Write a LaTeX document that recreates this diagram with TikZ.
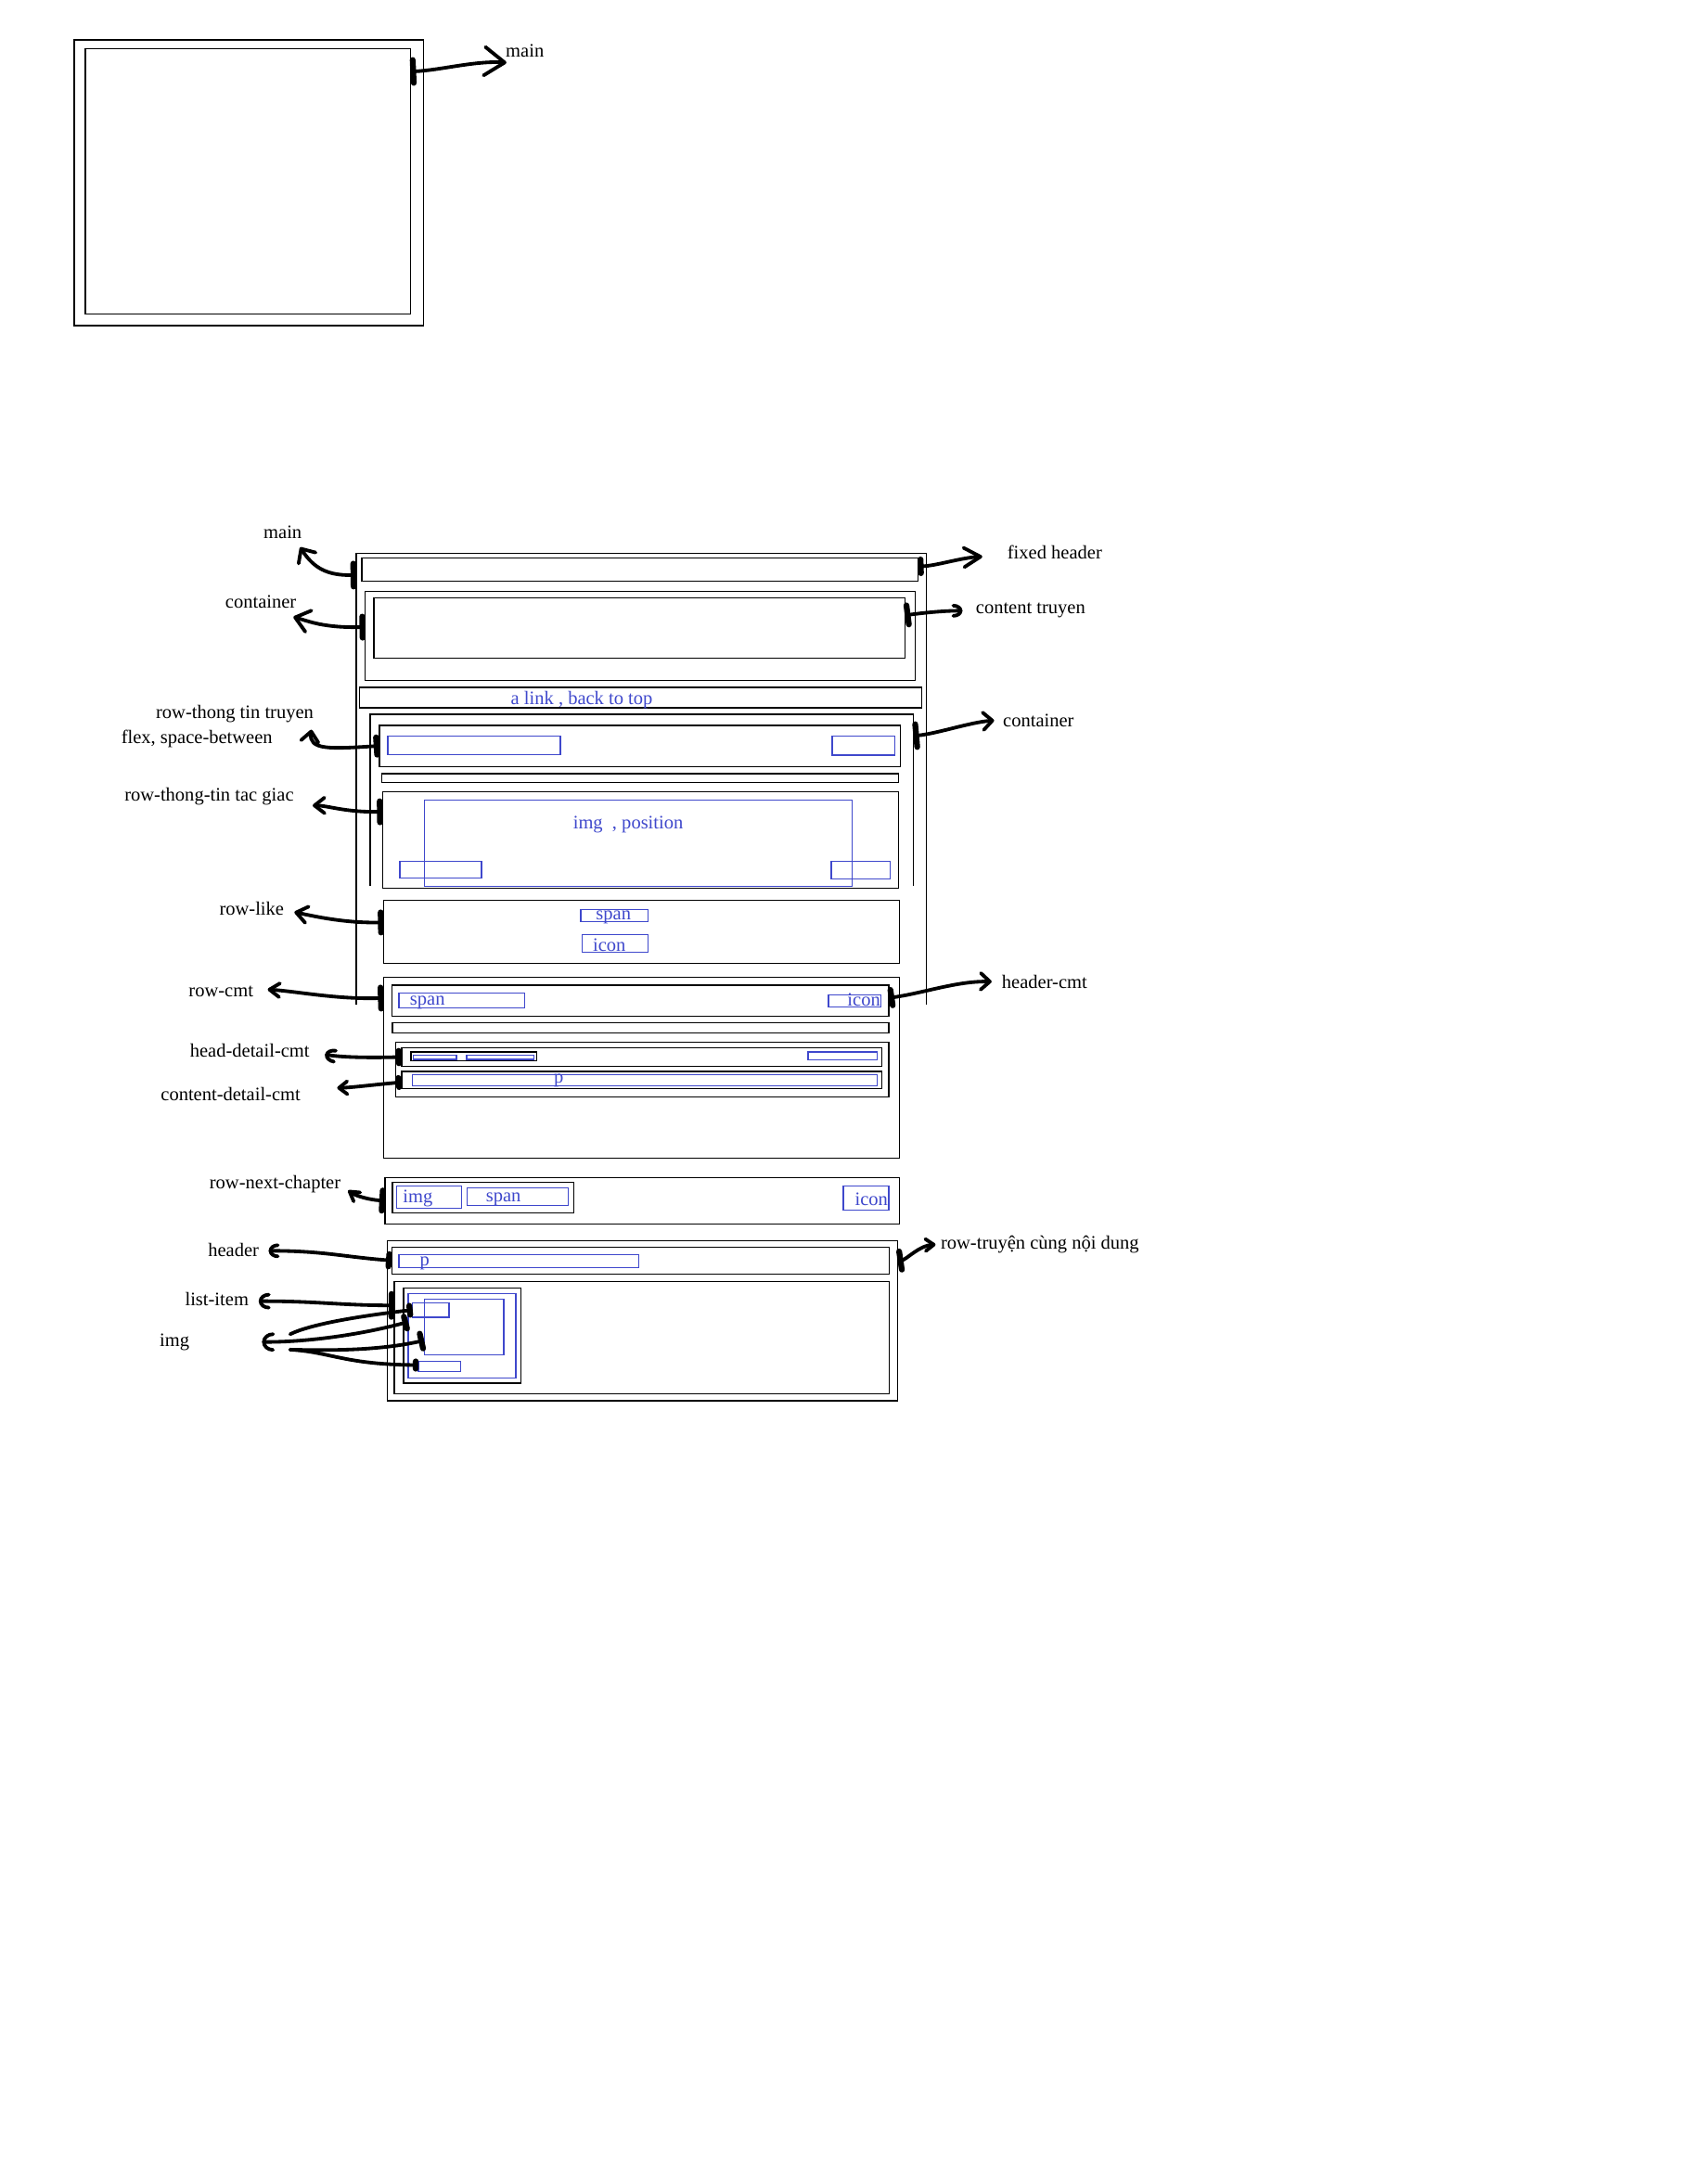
\documentclass[tikz,border=0pt]{standalone}
\usepackage{fontspec}
\setmainfont{Liberation Serif}
\usetikzlibrary{arrows.meta,fit,calc}
\definecolor{pblue}{RGB}{63,72,204}
\newcommand\lblfont{\fontsize{5.9pt}{7pt}\selectfont}
\newcommand\bx[6][]{\node[box,#1,fit={(#3,#4) (#5,#6)}] (#2) {};}
\begin{document}
\begin{tikzpicture}[x=0.15mm,y=-0.15mm,
 box/.style={draw=black,line width=0.4pt,inner sep=0pt,outer sep=0pt},
 bbox/.style={box,draw=pblue},
 hid/.style={inner sep=0pt,outer sep=0pt},
 frame/.style={draw=black,line width=0.4pt},
 lbl/.style={font=\lblfont,inner sep=0pt,text=black},
 btxt/.style={font=\lblfont,inner sep=0pt,text=pblue,anchor=base west},
 cn/.style n args={4}{line width=1.1pt,line cap=round,line join=round,arrows={Bar[width=#1,line width=1.8pt,round]-#2[length=#3,width=#4,round]}},
 cnb/.style={line width=1.1pt,line cap=round,line join=round,arrows={Bar[width=#1,line width=1.8pt,round]-}}
]
\fill[white] (0,0) rectangle (1240,1574);
\useasboundingbox (0,0) rectangle (1240,1574);

% ---------- top sketch ----------
\bx{topout}{54}{29}{307.5}{236.5}
\bx{topin}{62}{35.5}{298}{228}
\node[lbl,anchor=west] (lmain1) at (366.9,37) {main};
\coordinate (emain1) at (367.8,45.5);

% ---------- main layout ----------
\node[hid,fit={(258.8,402) (672.6,730)}] (mainbox) {};
\draw[frame] (mainbox.south west) |- (mainbox.north east) -- (mainbox.south east);
\bx{fh}{262.9}{405.4}{666.6}{422}
\bx{cont1}{265.3}{429.6}{664.6}{494.1}
\bx{ct}{271.5}{434.1}{657.1}{477.9}
\bx{alink}{261}{499.3}{669.3}{514}
\node[hid,fit={(268.9,518.9) (663.3,643.5)}] (cont2) {};
\draw[frame] (cont2.south west) |- (cont2.north east) -- (cont2.south east);
\bx{rtt}{275.6}{526.8}{653.9}{556.7}
\bx[bbox]{rttA}{281.6}{534.8}{406.9}{548}
\bx[bbox]{rttB}{604.5}{534.5}{649.9}{548.4}
\bx{bar1}{277.3}{562}{652.4}{568.5}
\bx{rtg}{278}{575}{652.4}{645}
\bx[bbox]{rtgimg}{308.1}{581}{618.7}{643.7}
\bx[bbox]{rtgA}{290.5}{625.5}{349.7}{637.6}
\bx[bbox]{rtgB}{603.8}{625.5}{646.6}{638.3}
\bx{rlike}{278.7}{654}{653.1}{699.6}
\bx[bbox]{rlspan}{421.8}{660.7}{470.6}{669.3}
\bx[bbox]{rlicon}{423}{678.9}{470.6}{691.7}
\bx{rcmt}{278.7}{709.7}{653.1}{841.1}
\bx{hcmt}{284.5}{715.7}{645.4}{738}
\bx[bbox]{hcspan}{289.8}{721.1}{380.9}{731.9}
\bx[bbox]{hcicon}{601.8}{722.5}{639.9}{731.5}
\bx{bar2}{285}{742.9}{645.4}{750.1}
\bx{dwrap}{287.2}{757}{645.4}{796.7}
\bx{hdc}{291.7}{761}{640.6}{774.5}
\bx{hdgrp}{298.5}{764.1}{389.8}{770.4}
\bx[bbox]{hdA}{300.1}{766.4}{331.6}{769.5}
\bx[bbox]{hdB}{338.9}{766.4}{387.7}{769.5}
\bx[bbox]{hdC}{586.8}{764.1}{637.2}{769.7}
\bx{cdc}{291.7}{778.3}{640.6}{790.6}
\bx[bbox]{cdp}{299.7}{780.5}{637.2}{788.8}
\bx{rnc}{279.7}{855.3}{653.1}{889}
\bx{rncin}{285}{858.6}{416.7}{880.9}
\bx[bbox]{rncimg}{288.1}{861.3}{335.2}{877.7}
\bx[bbox]{rncspan}{339.3}{862.7}{412.9}{875.5}
\bx[bbox]{rncicon}{612.5}{861.3}{645.4}{878.9}
\bx{rtr}{281.2}{901.1}{651.9}{1017.4}
\bx{hdr}{284.5}{905.8}{645.9}{925.3}
\bx[bbox]{hdrp}{289.8}{911.2}{463.9}{920.6}
\bx{lst}{286.4}{931}{645.9}{1012.2}
\bx{li}{293.2}{935.4}{378.3}{1004.6}
\bx[bbox]{lib}{296.5}{939.5}{374.7}{1000.8}
\bx[bbox]{liimg}{308.1}{943.7}{365.8}{983.9}
\bx[bbox]{liS}{299.7}{946.2}{326.1}{956.7}
\bx[bbox]{liT}{304}{988.6}{334.5}{996}

% ---------- blue texts ----------
\node[btxt] (tlink) at (370.6,511.6) {a link , back to top};
\node[btxt] (timg) at (415.8,601.9) {img~~, position};
\node[btxt] (tspan1) at (432.4,668.1) {span};
\node[btxt] (ticon1) at (430.2,691.3) {icon};
\node[btxt] (tspan2) at (297.3,730.3) {span};
\node[btxt] (ticon2) at (615,731) {icon};
\node[btxt] (tp1) at (401.8,786.8) {p};
\node[btxt] (timg2) at (292.2,873.7) {img};
\node[btxt] (tspan3) at (352.5,873.2) {span};
\node[btxt] (ticon3) at (620.5,875.5) {icon};
\node[btxt] (tp2) at (304.5,919.5) {p};

% ---------- black labels ----------
\node[lbl] (lmain2) at (205.3,386.3) {main};
\node[lbl] (lcont1) at (189.4,437.3) {container};
\node[lbl] (lrtt) at (170.5,518.3) {row-thong tin truyen};
\node[lbl] (lflex) at (143,536.7) {flex, space-between};
\node[lbl] (lfh) at (766,400.9) {fixed header};
\node[lbl] (lct) at (748.5,443.1) {content truyen};
\node[lbl] (lcont2) at (754.2,523.3) {container};
\node[lbl] (lrtg) at (151.9,578.3) {row-thong-tin tac giac};
\node[lbl] (lrlike) at (182.8,659.8) {row-like};
\node[lbl] (lrcmt) at (160.5,720.5) {row-cmt};
\node[lbl] (lhcmt) at (758.6,713.5) {header-cmt};
\node[lbl] (lhdc) at (181.4,763.2) {head-detail-cmt};
\node[lbl] (lcdc) at (167.5,794.7) {content-detail-cmt};
\node[lbl] (lrnc) at (199.8,860.2) {row-next-chapter};
\node[lbl] (lhdr) at (169.6,908) {header};
\node[lbl] (llst) at (157.5,943.3) {list-item};
\node[lbl] (limg) at (126.8,974.7) {img};
\node[lbl,anchor=west] (lrtr) at (682.8,904) {row-truyện cùng nội dung};

% ---------- connector end points ----------
\coordinate (emain2) at (218,397.5);
\coordinate (econt1) at (213.1,448.1);
\coordinate (ertt) at (226.2,530);
\coordinate (efh) at (713.4,404.3);
\coordinate (ect) at (699,443.6);
\coordinate (econt2) at (722,523.3);
\coordinate (ertg) at (227.1,585.1);
\coordinate (erlike) at (213.8,662.5);
\coordinate (ercmt) at (194.4,718.7);
\coordinate (ehcmt) at (720.2,713);
\coordinate (ehdc) at (236,765.9);
\coordinate (ecdc) at (244.9,790.2);
\coordinate (ernc) at (252.8,864.7);
\coordinate (ehdr) at (195.1,908.5);
\coordinate (elst) at (187.9,945.1);
\coordinate (eimg) at (190.3,974.7);
\coordinate (eimgA) at (210.7,969.1);
\coordinate (eimgC) at (210.7,980.3);
\coordinate (ertr) at (679.5,904);

% ---------- connectors ----------
\draw[cn={2.5mm}{Straight Barb}{2.2mm}{3.1mm}] ($(topin.north east)+(0,16.5)$) .. controls (320,51) and (345,44) .. (emain1);
\draw[cn={2.5mm}{Straight Barb}{1.2mm}{2.2mm}] ($(mainbox.north west)+(0,15.7)$) .. controls (238,418) and (228,413) .. (emain2);
\draw[cn={2.3mm}{Straight Barb}{1.5mm}{2.4mm}] ($(cont1.north west)+(0,25.9)$) .. controls (235,456) and (225,451.5) .. (econt1);
\draw[cn={1.9mm}{Straight Barb}{1.1mm}{1.9mm}] (rtt.west) .. controls (240,544) and (224,545) .. (ertt);
\draw[cn={1.5mm}{Straight Barb}{1.8mm}{2.1mm}] ($(fh.north east)+(0,6)$) .. controls (680,411) and (698,405) .. (efh);
\draw[cn={2.1mm}{Arc Barb}{1mm}{1.5mm}] ($(ct.north east)+(0,12.8)$) .. controls (672,445) and (685,443.6) .. (ect);
\draw[cn={2.5mm}{Straight Barb}{1mm}{1.9mm}] ($(cont2.north east)+(0,15.6)$) .. controls (680,533) and (705,524.5) .. (econt2);
\draw[cn={2.3mm}{Straight Barb}{1.1mm}{1.7mm}] ($(rtg.north west)+(0,14.6)$) .. controls (250,590) and (238,585) .. (ertg);
\draw[cn={2.2mm}{Straight Barb}{1.2mm}{1.8mm}] ($(rlike.north west)+(0,16)$) .. controls (250,670.5) and (228,665.5) .. (erlike);
\draw[cn={2.3mm}{Straight Barb}{1.1mm}{1.5mm}] ($(rcmt.north west)+(0,15.2)$) .. controls (245,726) and (215,720) .. (ercmt);
\draw[cn={1.7mm}{Straight Barb}{1mm}{1.8mm}] ($(hcmt.north east)+(0,9.2)$) .. controls (672,721) and (695,712.5) .. (ehcmt);
\draw[cn={1.35mm}{Arc Barb}{1.1mm}{1.6mm}] (hdc.west) .. controls (260,768.5) and (245,767.5) .. (ehdc);
\draw[cn={1mm}{Straight Barb}{0.9mm}{1.4mm}] ($(cdc.north west)+(0,7.8)$) .. controls (270,788) and (255,790) .. (ecdc);
\draw[cn={2.2mm}{Straight Barb}{1mm}{1.2mm}] (rnc.west) .. controls (268,871.5) and (258,868.5) .. (ernc);
\draw[cn={1.35mm}{Arc Barb}{1mm}{1.6mm}] (hdr.west) .. controls (250,913) and (235,908.5) .. (ehdr);
\draw[cn={2.5mm}{Arc Barb}{1.1mm}{1.8mm}] ($(lst.north west)+(0,17.2)$) .. controls (245,948) and (230,945) .. (elst);
\draw[cnb={1mm}] (liS.west) .. controls (260,956) and (225,962) .. (eimgA);
\draw[cn={1.35mm}{Arc Barb}{1.2mm}{2.1mm}] ($(lib.north west)+(0,20.6)$) .. controls (260,970) and (220,975) .. (eimg);
\draw[cnb={1.65mm}] ($(liimg.north west)+(0,29.9)$) .. controls (275,981) and (240,981) .. (eimgC);
\draw[cnb={0.8mm}] ($(liT.north west)+(0,2.9)$) .. controls (250,991) and (240,982) .. (eimgC);
\draw[cn={2mm}{Straight Barb}{0.9mm}{1.3mm}] ($(rtr.north east)+(0,14.8)$) .. controls (658,915) and (668,904.5) .. (ertr);
\end{tikzpicture}
\end{document}
